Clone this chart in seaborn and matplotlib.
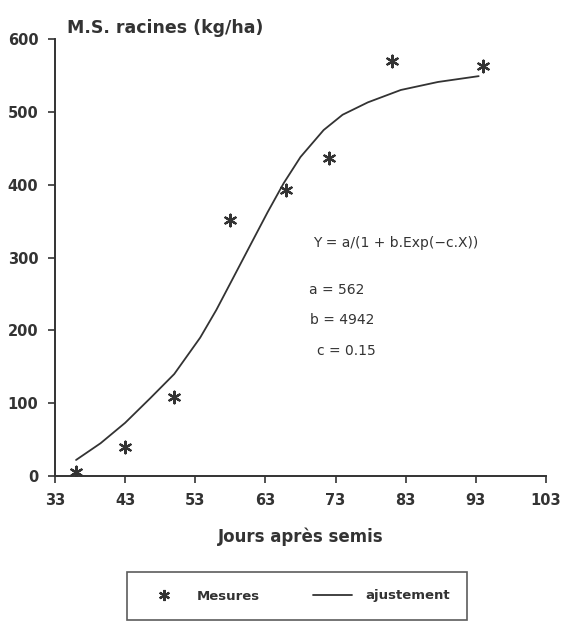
import numpy as np
import pandas as pd
import seaborn as sns
import matplotlib.pyplot as plt
from matplotlib.lines import Line2D

# measured root dry matter
jours = [36, 43, 50, 58, 66, 72, 81, 94]
ms_racines = [5, 40, 108, 352, 393, 437, 570, 563]

# fitted curve
fit_x = [36, 39.5, 43, 46.6, 50, 53.7, 56, 58.4, 60.9, 63.3, 65.6, 68, 71.3, 74, 77.6, 82.3, 87.6, 93.4]
fit_y = [22, 45, 73, 107, 140, 190, 228, 272, 318, 362, 402, 438, 475, 496, 513, 530, 541, 549]

xticks = [33, 43, 53, 63, 73, 83, 93, 103]
yticks = [0, 100, 200, 300, 400, 500, 600]

pts = pd.DataFrame({'jours': jours, 'ms': ms_racines})
fit = pd.DataFrame({'jours': fit_x, 'ms': fit_y})

sns.set_style('white')
plt.rcParams['font.family'] = ['DejaVu Sans']
ink = '#333333'

fig = plt.figure(figsize=(5.61, 6.25), dpi=100)
ax = fig.add_axes([55 / 561, 1 - 476 / 625, 491 / 561, 437 / 625])

sns.lineplot(data=fit, x='jours', y='ms', color=ink, lw=1.3, ax=ax)
sns.scatterplot(data=pts, x='jours', y='ms', marker=(6, 2, 0), s=70,
                color=ink, edgecolor=ink, linewidth=1.6, ax=ax)

ax.set_xlim(33, 103)
ax.set_ylim(0, 600)
ax.set_xticks(xticks)
ax.set_yticks(yticks)
ax.tick_params(axis='both', direction='out', length=5, width=1.2, color=ink,
               labelsize=10.5, labelcolor=ink, bottom=True, left=True, pad=7)
for lab in ax.get_xticklabels() + ax.get_yticklabels():
    lab.set_fontweight('bold')
for side in ['top', 'right']:
    ax.spines[side].set_visible(False)
for side in ['left', 'bottom']:
    ax.spines[side].set_color(ink)
    ax.spines[side].set_linewidth(1.4)

ax.set_xlabel('Jours après semis', fontsize=12, fontweight='bold', color=ink, labelpad=14)
ax.set_ylabel('')
fig.text(67 / 561, 1 - 28 / 625, 'M.S. racines (kg/ha)', fontsize=12.5, fontweight='bold',
         color=ink, va='center', ha='left')

ax.text(81.6, 320, 'Y = a/(1 + b.Exp(−c.X))', ha='center', va='center', fontsize=10, color=ink)
ax.text(73.2, 255, 'a = 562', ha='center', va='center', fontsize=10, color=ink)
ax.text(74.0, 214, 'b = 4942', ha='center', va='center', fontsize=10, color=ink)
ax.text(74.6, 172, 'c = 0.15', ha='center', va='center', fontsize=10, color=ink)

handles = [Line2D([], [], marker=(6, 2, 0), ls='none', color=ink, markersize=8, mew=1.6),
           Line2D([], [], color=ink, lw=1.3)]
leg = fig.legend(handles, ['Mesures', 'ajustement'], loc='center', ncol=2,
                 bbox_to_anchor=(297 / 561, 1 - 596 / 625), frameon=True, fancybox=False,
                 edgecolor=ink, borderpad=1.3, borderaxespad=0, columnspacing=4.0,
                 handlelength=3.0, handletextpad=1.0,
                 prop={'weight': 'bold', 'size': 9.5})
leg.get_frame().set_linewidth(1.2)
for t in leg.get_texts():
    t.set_color(ink)

fig.savefig('out.png', dpi=100)
